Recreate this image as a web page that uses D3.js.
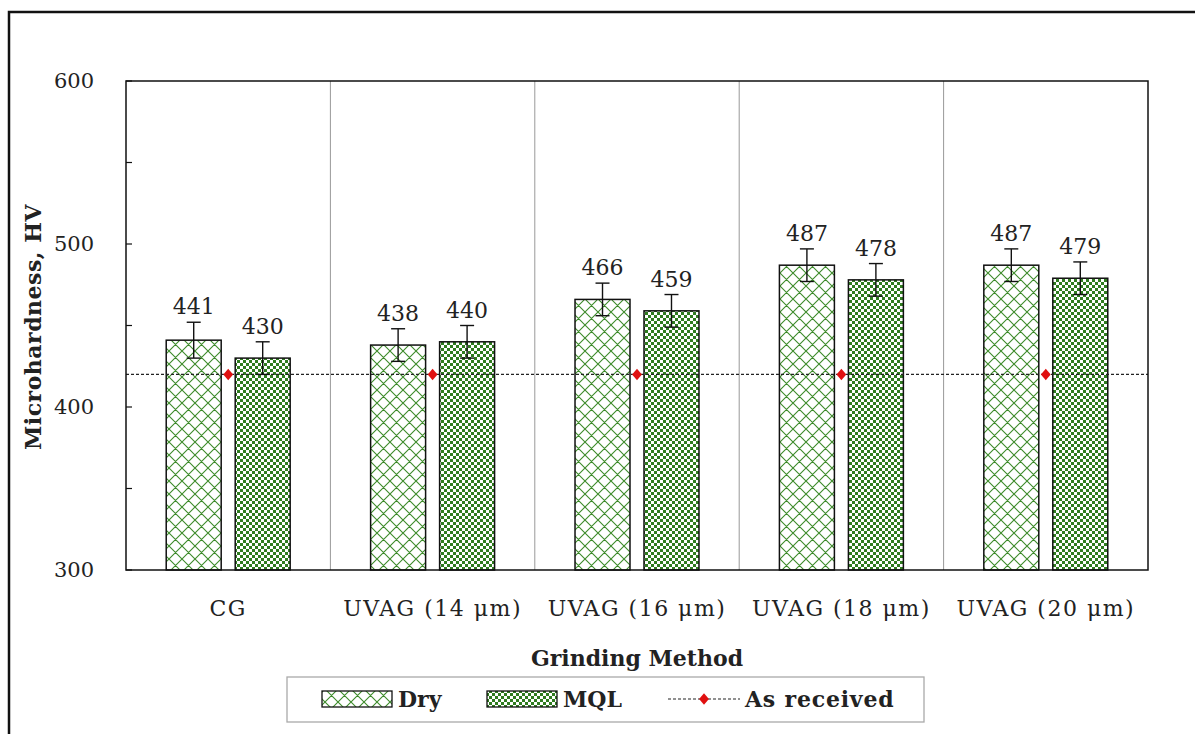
<!DOCTYPE html>
<html>
<head>
<meta charset="utf-8">
<script src="https://cdn.jsdelivr.net/npm/d3@7"></script>
<style>
  body { margin: 0; background: #fff; }
  svg { display: block; }
  text { font-family: "DejaVu Serif", "Liberation Serif", serif; fill: #222; }
</style>
</head>
<body>
<svg id="chart" width="1195" height="734"></svg>
<script>
// Grinding methods along the x axis
const categories = ["CG", "UVAG (14 μm)", "UVAG (16 μm)", "UVAG (18 μm)", "UVAG (20 μm)"];
// Mean microhardness (HV) per condition
const dryValues = [441, 438, 466, 487, 487];
const mqlValues = [430, 440, 459, 478, 479];
// Error half-widths (HV)
const dryErrors = [11, 10, 10, 10, 10];
const mqlErrors = [10, 10, 10, 10, 10];
// Reference hardness of the as-received material
const asReceived = [420, 420, 420, 420, 420];
const yTicks = [300, 400, 500, 600];
const yMinorTicks = [350, 450, 550];

const svg = d3.select("#chart");
const W = 1195, H = 734;
const m = { left: 126, right: 1148, top: 81, bottom: 570 };
const green = "#3d8b2a";
const serif = "'DejaVu Serif', serif";

// Outer border
svg.append("path")
  .attr("d", `M9,${H} V12 H${W}`)
  .attr("fill", "none").attr("stroke", "#111").attr("stroke-width", 2.5);

const defs = svg.append("defs");
// Diagonal crosshatch for Dry
const hatch = defs.append("pattern").attr("id", "hatchDry")
  .attr("patternUnits", "userSpaceOnUse").attr("width", 13).attr("height", 13);
hatch.append("rect").attr("width", 13).attr("height", 13).attr("fill", "#fff");
hatch.append("path").attr("d", "M0,0 L13,13 M13,0 L0,13 M-1,12 L1,14 M12,-1 L14,1 M-1,1 L1,-1 M12,14 L14,12")
  .attr("stroke", green).attr("stroke-width", 1.1).attr("fill", "none");
// Small checkerboard for MQL
const checker = defs.append("pattern").attr("id", "checkMql")
  .attr("patternUnits", "userSpaceOnUse").attr("width", 6).attr("height", 6);
checker.append("rect").attr("width", 6).attr("height", 6).attr("fill", "#2f7c1f");
checker.append("rect").attr("x", 0).attr("y", 0).attr("width", 3).attr("height", 3).attr("fill", "#fff");
checker.append("rect").attr("x", 3).attr("y", 3).attr("width", 3).attr("height", 3).attr("fill", "#fff");

const x = d3.scaleBand().domain(categories).range([m.left, m.right]).padding(0);
const y = d3.scaleLinear().domain([300, 600]).range([m.bottom, m.top]);
const inner = d3.scaleBand().domain(["Dry", "MQL"]).range([0, x.bandwidth()])
  .paddingInner(0.203).paddingOuter(0.583);

// Group separators
svg.append("g").selectAll("line").data(categories.slice(1)).join("line")
  .attr("x1", d => x(d)).attr("x2", d => x(d))
  .attr("y1", m.top).attr("y2", m.bottom)
  .attr("stroke", "#999").attr("stroke-width", 1);

const series = [
  { key: "Dry", values: dryValues, errs: dryErrors, fill: "url(#hatchDry)" },
  { key: "MQL", values: mqlValues, errs: mqlErrors, fill: "url(#checkMql)" }
];

series.forEach(s => {
  const g = svg.append("g");
  const rows = categories.map((c, i) => ({ c, v: s.values[i], e: s.errs[i] }));
  g.selectAll("rect").data(rows).join("rect")
    .attr("x", d => x(d.c) + inner(s.key))
    .attr("y", d => y(d.v))
    .attr("width", inner.bandwidth())
    .attr("height", d => y(300) - y(d.v))
    .attr("fill", s.fill)
    .attr("stroke", "#111").attr("stroke-width", 1.5);
});

// As-received reference line
const refRows = categories.map((c, i) => ({ c, v: asReceived[i] }));
svg.append("line")
  .attr("x1", m.left).attr("x2", m.right)
  .attr("y1", y(asReceived[0])).attr("y2", y(asReceived[0]))
  .attr("stroke", "#222").attr("stroke-width", 1.1).attr("stroke-dasharray", "3,2");
svg.append("g").selectAll("path").data(refRows).join("path")
  .attr("d", d3.symbol(d3.symbolDiamond2, 85))
  .attr("transform", d => `translate(${x(d.c) + x.bandwidth() / 2},${y(d.v)}) scale(0.85,1)`)
  .attr("fill", "#e01010");

// Error bars and value labels
series.forEach(s => {
  const g = svg.append("g");
  categories.forEach((c, i) => {
    const cx = x(c) + inner(s.key) + inner.bandwidth() / 2;
    const v = s.values[i], e = s.errs[i];
    g.append("line").attr("x1", cx).attr("x2", cx).attr("y1", y(v + e)).attr("y2", y(v - e))
      .attr("stroke", "#111").attr("stroke-width", 1.4);
    [v + e, v - e].forEach(t => g.append("line")
      .attr("x1", cx - 7).attr("x2", cx + 7).attr("y1", y(t)).attr("y2", y(t))
      .attr("stroke", "#111").attr("stroke-width", 1.4));
    g.append("text").attr("x", cx).attr("y", y(v + e) - 8)
      .attr("text-anchor", "middle").attr("font-size", 22).text(v);
  });
});

// Plot frame
svg.append("rect").attr("x", m.left).attr("y", m.top)
  .attr("width", m.right - m.left).attr("height", m.bottom - m.top)
  .attr("fill", "none").attr("stroke", "#111").attr("stroke-width", 1.5);

// Y axis: labelled major ticks plus inward tick marks
const yAxis = d3.axisLeft(y).tickValues(yTicks).tickSize(0).tickPadding(32);
const ya = svg.append("g").attr("transform", `translate(${m.left},0)`).call(yAxis);
ya.select(".domain").remove();
ya.selectAll("text").attr("font-size", 21).style("font-family", serif).attr("fill", "#222");
svg.append("g").selectAll("line").data(yTicks.concat(yMinorTicks)).join("line")
  .attr("x1", m.left).attr("x2", m.left + 6)
  .attr("y1", d => y(d)).attr("y2", d => y(d))
  .attr("stroke", "#111").attr("stroke-width", 1.2);

// X axis category labels
const xAxis = d3.axisBottom(x).tickSize(0).tickPadding(30);
const xa = svg.append("g").attr("transform", `translate(0,${m.bottom})`).call(xAxis);
xa.select(".domain").remove();
xa.selectAll("text").attr("font-size", 22).style("font-family", serif)
  .style("letter-spacing", "1.5px").attr("fill", "#222");

// Axis titles
svg.append("text").attr("x", (m.left + m.right) / 2).attr("y", 666)
  .attr("text-anchor", "middle").attr("font-size", 22).attr("font-weight", "bold").text("Grinding Method");
svg.append("text").attr("transform", `translate(41,${327}) rotate(-90)`)
  .attr("text-anchor", "middle").attr("font-size", 22).attr("font-weight", "bold")
  .style("letter-spacing", "0.5px").text("Microhardness, HV");

// Legend
const lg = svg.append("g");
lg.append("rect").attr("x", 287).attr("y", 677).attr("width", 637).attr("height", 45)
  .attr("fill", "#fff").attr("stroke", "#aaa").attr("stroke-width", 1.3);
const ly = 699;
lg.append("rect").attr("x", 322).attr("y", ly - 8).attr("width", 70).attr("height", 16)
  .attr("fill", "url(#hatchDry)").attr("stroke", "#111").attr("stroke-width", 1.3);
lg.append("text").attr("x", 398).attr("y", ly + 8).attr("font-size", 22).attr("font-weight", "bold").text("Dry");
lg.append("rect").attr("x", 487).attr("y", ly - 8).attr("width", 70).attr("height", 16)
  .attr("fill", "url(#checkMql)").attr("stroke", "#111").attr("stroke-width", 1.3);
lg.append("text").attr("x", 563).attr("y", ly + 8).attr("font-size", 22).attr("font-weight", "bold").text("MQL");
lg.append("line").attr("x1", 668).attr("x2", 740).attr("y1", ly).attr("y2", ly)
  .attr("stroke", "#222").attr("stroke-width", 1.1).attr("stroke-dasharray", "3,2");
lg.append("path").attr("d", d3.symbol(d3.symbolDiamond2, 85))
  .attr("transform", `translate(704,${ly}) scale(0.85,1)`).attr("fill", "#e01010");
lg.append("text").attr("x", 745).attr("y", ly + 8).attr("font-size", 22).attr("font-weight", "bold")
  .style("letter-spacing", "0.8px").text("As received");
</script>
</body>
</html>
